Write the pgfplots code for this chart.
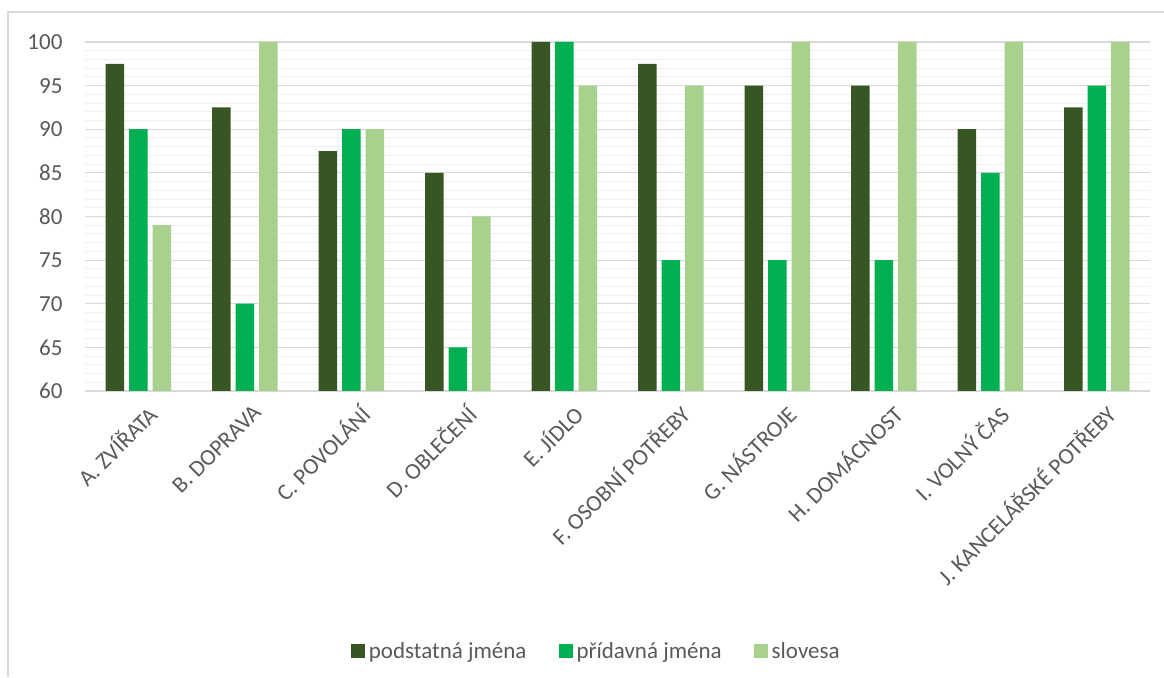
\documentclass[border=0pt]{standalone}
\usepackage{fontspec}
\setmainfont{Carlito}
\usepackage{pgfplots}
\usepackage{pgfplotstable}
\pgfplotsset{compat=1.18}

\definecolor{noun}{HTML}{375623}
\definecolor{adj}{HTML}{00B050}
\definecolor{verb}{HTML}{A9D18E}
\definecolor{txt}{HTML}{595959}
\definecolor{majgrid}{HTML}{D9D9D9}
\definecolor{mingrid}{HTML}{F0F0F0}

% success rate (%) per topic and word class
\pgfplotstableread{
idx noun adj verb
0 97.5 90 79
1 92.5 70 100
2 87.5 90 90
3 85 65 80
4 100 100 95
5 97.5 75 95
6 95 75 100
7 95 75 100
8 90 85 100
9 92.5 95 100
}\results

\newcommand{\lblfont}{\fontsize{23}{26}\selectfont}

\begin{document}
\begin{tikzpicture}
\path[use as bounding box] (0pt,0pt) rectangle (1164pt,677pt);
\draw[majgrid, line width=1.5pt] (8pt,0pt) -- (8pt,665pt) -- (1164pt,665pt);
\begin{axis}[
  at={(85pt,286pt)}, anchor=south west,
  width=1065pt, height=349pt, scale only axis,
  ybar, bar width=18.5pt, ybar=5pt,
  xmin=-0.5, xmax=9.5, ymin=60, ymax=100,
  xtick={0,...,9},
  xticklabels={A. ZVÍŘATA, B. DOPRAVA, C. POVOLÁNÍ, D. OBLEČENÍ, E. JÍDLO,
    F. OSOBNÍ POTŘEBY, G. NÁSTROJE, H. DOMÁCNOST, I. VOLNÝ ČAS,
    J. KANCELÁŘSKÉ POTŘEBY},
  ytick={60,65,...,100},
  minor y tick num=4,
  ymajorgrids, yminorgrids,
  major grid style={draw=majgrid, line width=1.2pt},
  minor grid style={draw=mingrid, line width=1pt},
  axis line style={draw=none},
  major tick length=0pt, minor tick length=0pt,
  /pgf/number format/assume math mode=true,
  yticklabel style={text=txt, font=\lblfont, anchor=east, xshift=-19pt},
  xticklabel style={text=txt, font=\lblfont, rotate=45, anchor=north east,
    xshift=0pt, yshift=-10pt},
  legend style={at={(0.48,-0.745)}, anchor=center, draw=none, fill=none,
    font=\lblfont, text=txt, legend columns=3,
    /tikz/every odd column/.append style={column sep=2pt},
    /tikz/every even column/.append style={column sep=30pt}},
  legend image code/.code={\fill[#1] (0pt,-7pt) rectangle (14pt,7pt);},
]
\addplot[fill=noun, draw=none] table[x=idx, y=noun] {\results};
\addplot[fill=adj, draw=none] table[x=idx, y=adj] {\results};
\addplot[fill=verb, draw=none] table[x=idx, y=verb] {\results};
\legend{podstatná jména, přídavná jména, slovesa}
\end{axis}
\end{tikzpicture}
\end{document}
